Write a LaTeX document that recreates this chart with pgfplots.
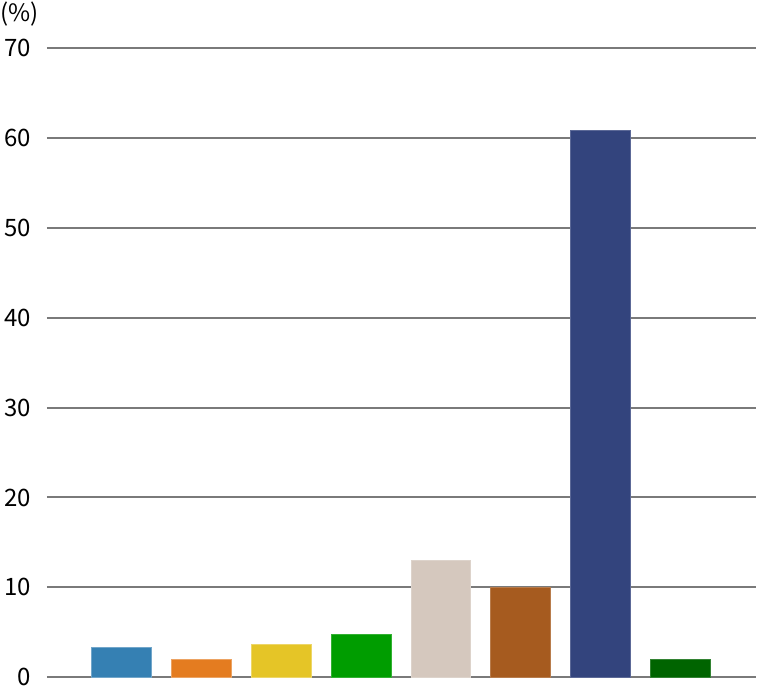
\documentclass[border=0pt]{standalone}
\usepackage{pgfplots}
\pgfplotsset{compat=1.18}
\usepackage{fontspec}
\newfontfamily\cjk{Noto Sans CJK JP}
\setmainfont{Noto Sans CJK JP}
\definecolor{c1}{HTML}{3580B3}
\definecolor{c2}{HTML}{E47C20}
\definecolor{c3}{HTML}{E5C527}
\definecolor{c4}{HTML}{009D00}
\definecolor{c5}{HTML}{D5C8BE}
\definecolor{c6}{HTML}{A65B1F}
\definecolor{c7}{HTML}{33447D}
\definecolor{c8}{HTML}{006400}
\definecolor{gridc}{HTML}{7A7A7A}
\begin{document}
\begin{tikzpicture}
\begin{axis}[
  at={(0pt,0pt)}, anchor=south west,
  scale only axis, width=710pt, height=629.5pt,
  xmin=-0.93, xmax=7.945, ymin=0, ymax=70,
  ytick={0,10,...,70}, xtick=\empty,
  axis line style={draw=none},
  ymajorgrids, major grid style={gridc, line width=2pt},
  ytick style={draw=none},
  yticklabel style={anchor=east, inner sep=0pt, xshift=-16pt, font=\cjk\fontsize{24}{26}\selectfont},
  /pgf/number format/assume math mode=true,
  ybar, bar width=60pt, bar shift=0pt,
  clip=false,
]
\addplot[fill=c1, draw=c1!70!white, line width=0.6pt] coordinates {(0,3.3)};
\addplot[fill=c2, draw=c2!70!white, line width=0.6pt] coordinates {(1,2.0)};
\addplot[fill=c3, draw=c3!70!white, line width=0.6pt] coordinates {(2,3.7)};
\addplot[fill=c4, draw=c4!80!white, line width=0.6pt] coordinates {(3,4.8)};
\addplot[fill=c5, draw=c5!80!white, line width=0.6pt] coordinates {(4,13.0)};
\addplot[fill=c6, draw=c6!80!white, line width=0.6pt] coordinates {(5,10.0)};
\addplot[fill=c7, draw=c7!80!white, line width=0.6pt] coordinates {(6,60.9)};
\addplot[fill=c8, draw=c8!80!white, line width=0.6pt] coordinates {(7,2.0)};
\end{axis}
\node[anchor=west, inner sep=0pt, font=\cjk\fontsize{24}{26}\selectfont] at (-47pt,664pt) {(\%)};
\path[use as bounding box] (-47pt,-12pt) rectangle (710pt,678pt);
\end{tikzpicture}
\end{document}
